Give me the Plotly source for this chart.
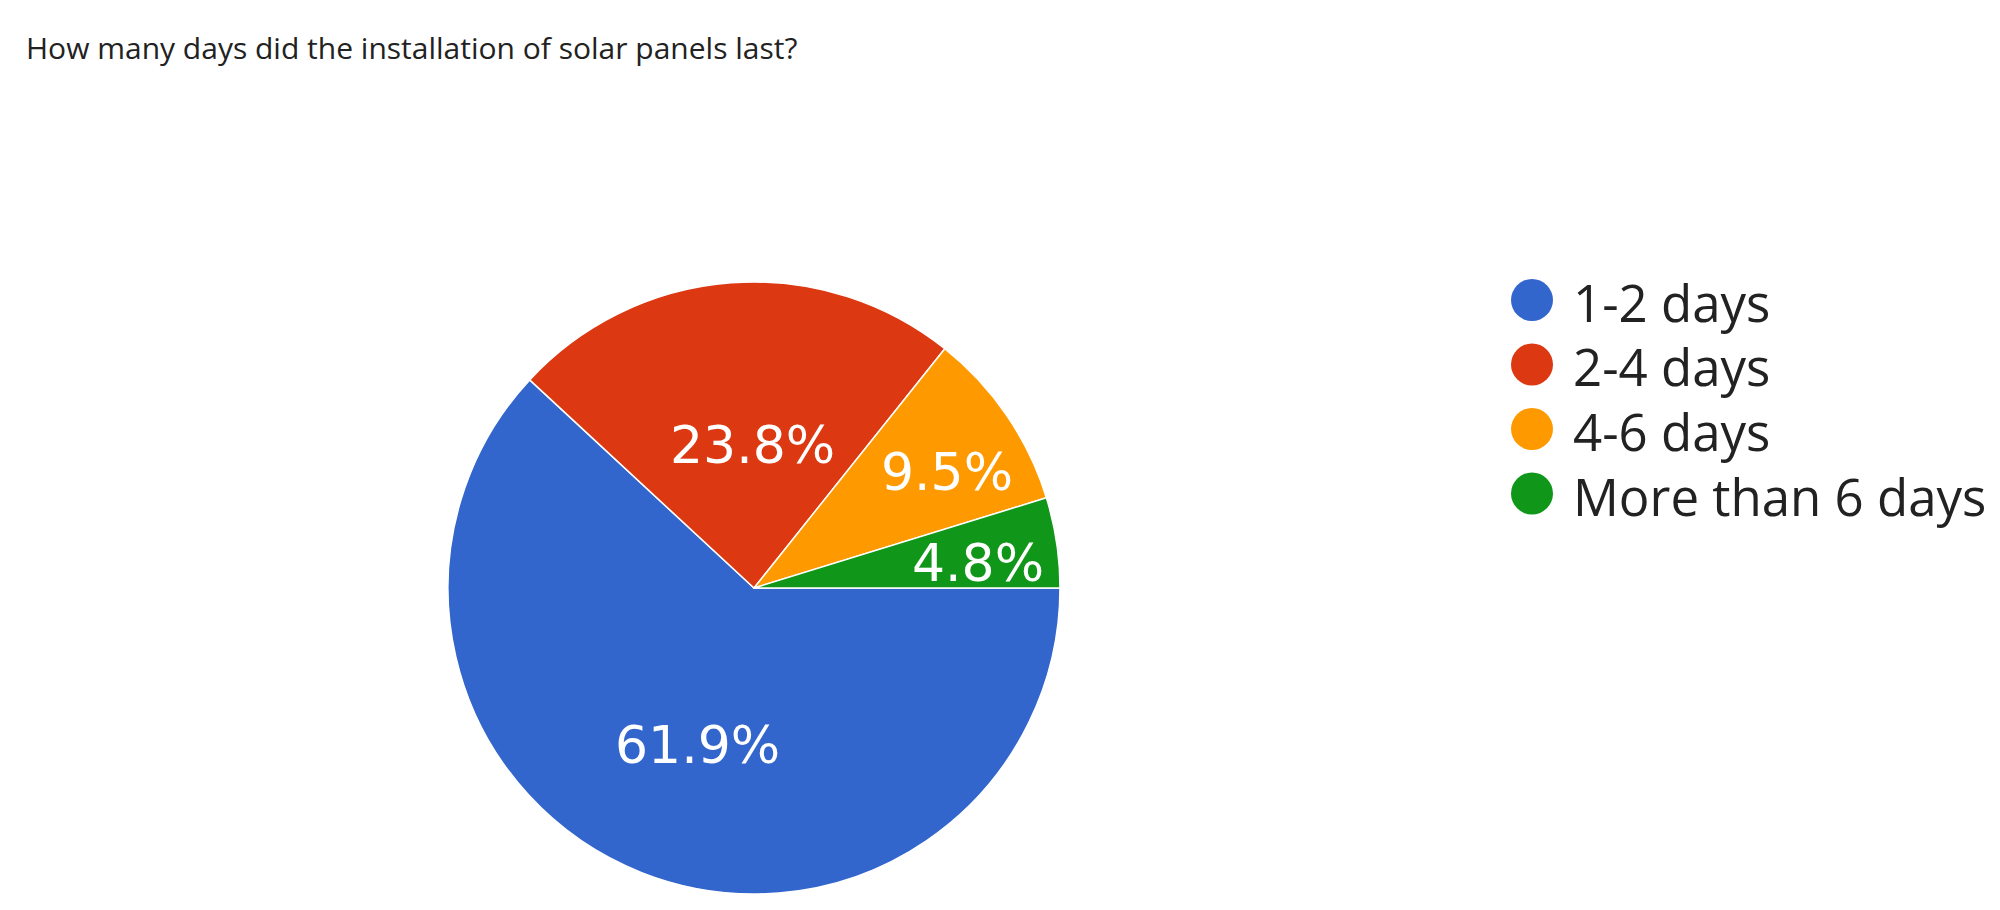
import math
import plotly.graph_objects as go

# ---- data ----
categories = ["1-2 days", "2-4 days", "4-6 days", "More than 6 days"]
responses = [13, 5, 2, 1]
colors = ["#3366CC", "#DC3912", "#FF9900", "#109618"]
title_text = "How many days did the installation of solar panels last?"

# ---- layout parameters (pixels in the 2000x910 canvas) ----
W, H = 2000, 910
pie_cx, pie_cy, pie_r = 746, 580, 306
label_radius_frac = [0.55, 0.47, 0.74, 0.74]      # label distance along each slice's mid-angle
label_nudge_px = [(5, 0), (9, 0), (6, -12), (0, -9)]  # small placement tweaks (x, y)

fig = go.Figure()
fig.add_trace(go.Pie(
    labels=categories,
    values=responses,
    sort=False,
    direction="clockwise",
    rotation=90,
    marker=dict(colors=colors, line=dict(color="white", width=1.5)),
    textinfo="none",
    showlegend=False,
    hoverinfo="label+percent",
    domain=dict(x=[(pie_cx - pie_r) / W, (pie_cx + pie_r) / W],
                y=[1 - (pie_cy + pie_r) / H, 1 - (pie_cy - pie_r) / H]),
))

annotations = []
shapes = []

# percent labels placed along each slice's mid-angle (derived from the data);
# rotation=90 + clockwise means the first slice starts at 3 o'clock
total = sum(responses)
cum = 0
for v, frac, (nx, ny) in zip(responses, label_radius_frac, label_nudge_px):
    mid = (cum + v / 2) / total
    cum += v
    theta = -mid * 2 * math.pi
    px = pie_cx + frac * pie_r * math.cos(theta)
    py = pie_cy - frac * pie_r * math.sin(theta)
    annotations.append(dict(
        text=f"{100 * v / total:.1f}%", xref="paper", yref="paper",
        x=px / W, y=1 - py / H, xanchor="center", yanchor="middle",
        xshift=nx, yshift=ny,
        showarrow=False,
        font=dict(family="DejaVu Sans", size=52, color="white"),
    ))

# custom legend with round swatches
legend_x_circle = 1524
legend_x_text = 1563
legend_y0 = 292
legend_dy = 64.5
r = 21
for i, (lab, col) in enumerate(zip(categories, colors)):
    cy = legend_y0 + i * legend_dy
    shapes.append(dict(
        type="circle", xref="paper", yref="paper",
        x0=(legend_x_circle - r) / W, x1=(legend_x_circle + r) / W,
        y0=1 - (cy + r) / H, y1=1 - (cy - r) / H,
        fillcolor=col, line=dict(width=0),
    ))
    annotations.append(dict(
        text=lab, xref="paper", yref="paper",
        x=legend_x_text / W, y=1 - (cy + 2) / H,
        xanchor="left", yanchor="middle", showarrow=False,
        font=dict(family="Open Sans", size=51, color="#222222"),
    ))

fig.update_layout(
    width=W, height=H,
    margin=dict(l=0, r=0, t=0, b=0),
    paper_bgcolor="white",
    plot_bgcolor="white",
    title=dict(
        text=title_text, x=18 / W, xanchor="left",
        y=1 - 40 / H, yanchor="middle",
        font=dict(family="Open Sans", size=30, color="#222222"),
    ),
    shapes=shapes,
    annotations=annotations,
)

fig.write_html("out.html")
